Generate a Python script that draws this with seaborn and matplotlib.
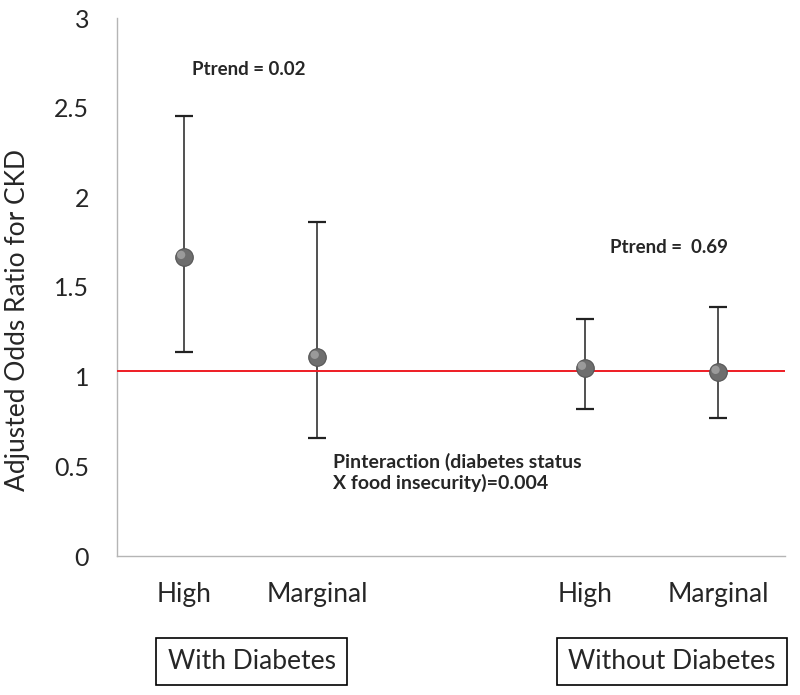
import matplotlib
matplotlib.use("Agg")
import matplotlib.pyplot as plt
from matplotlib.patches import Rectangle
import seaborn as sns
import pandas as pd
import numpy as np

# Data
levels = ["High", "Marginal", "High", "Marginal"]
groups = ["With Diabetes", "With Diabetes", "Without Diabetes", "Without Diabetes"]
positions = [0, 1, 3, 4]
odds_ratio = [1.667, 1.11, 1.049, 1.026]
ci_lower = [1.138, 0.658, 0.82, 0.77]
ci_upper = [2.454, 1.863, 1.322, 1.389]
ref_line = 1.03
y_ticks = [0, 0.5, 1, 1.5, 2, 2.5, 3]
y_tick_labels = ["0", "0.5", "1", "1.5", "2", "2.5", "3"]

df = pd.DataFrame({"pos": positions, "level": levels, "group": groups,
                   "or": odds_ratio, "lo": ci_lower, "hi": ci_upper})

sns.set_theme(style="white")
plt.rcParams["font.family"] = ["Lato", "DejaVu Sans"]

fig = plt.figure(figsize=(8, 6.95), dpi=100)
ax = fig.add_axes([117 / 800, 0.2, 668 / 800, 538 / 695])

# error bars
yerr = np.vstack([df["or"] - df["lo"], df["hi"] - df["or"]])
ax.errorbar(df["pos"], df["or"], yerr=yerr, fmt="none", ecolor="#222222",
            elinewidth=1.1, capsize=6.5, capthick=1.6, zorder=2)

# reference line
ax.axhline(ref_line, color="#ee1c24", lw=1.4, zorder=3)

# points
sns.scatterplot(data=df, x="pos", y="or", ax=ax, s=160, color="#6e6e6e",
                edgecolor="#555555", linewidth=0.8, zorder=4, legend=False)
ax.scatter(df["pos"] - 0.02, df["or"] + 0.012, s=36, color="#9a9a9a",
           edgecolor="none", zorder=5)

ax.set_xlim(-0.5, 4.5)
ax.set_ylim(0, 3)
ax.set_xticks(positions)
ax.set_xticklabels(levels, fontsize=19)
ax.set_yticks(y_ticks)
ax.set_yticklabels(y_tick_labels, fontsize=18)
ax.tick_params(axis="x", length=0, pad=19)
ax.tick_params(axis="y", length=0, pad=20)
ax.set_xlabel("")
ax.set_ylabel("Adjusted Odds Ratio for CKD", fontsize=19)
ax.yaxis.set_label_coords(-0.13, 0.439)

for side in ["top", "right"]:
    ax.spines[side].set_visible(False)
for side in ["left", "bottom"]:
    ax.spines[side].set_color("#b5b5b5")
    ax.spines[side].set_linewidth(1.0)

ax.text(0.061, 2.713, "Ptrend = 0.02", fontsize=13.5, fontweight="bold",
        va="center", ha="left")
ax.text(3.19, 1.718, "Ptrend =  0.69", fontsize=13.5, fontweight="bold",
        va="center", ha="left")
ax.text(1.117, 0.524, "Pinteraction (diabetes status", fontsize=14,
        fontweight="bold", va="center", ha="left")
ax.text(1.117, 0.407, "X food insecurity)=0.004", fontsize=14,
        fontweight="bold", va="center", ha="left")

# group boxes
for (x0, x1), label in [((156, 347), "With Diabetes"), ((557, 787), "Without Diabetes")]:
    y0, y1 = 638, 685
    fig.add_artist(Rectangle((x0 / 800, 1 - y1 / 695), (x1 - x0) / 800, (y1 - y0) / 695,
                             transform=fig.transFigure, fill=False,
                             edgecolor="black", lw=1.2))
    fig.text((x0 + x1) / 2 / 800, 1 - (y0 + y1) / 2 / 695, label, fontsize=19,
             ha="center", va="center")

fig.savefig("out.png", dpi=100)
